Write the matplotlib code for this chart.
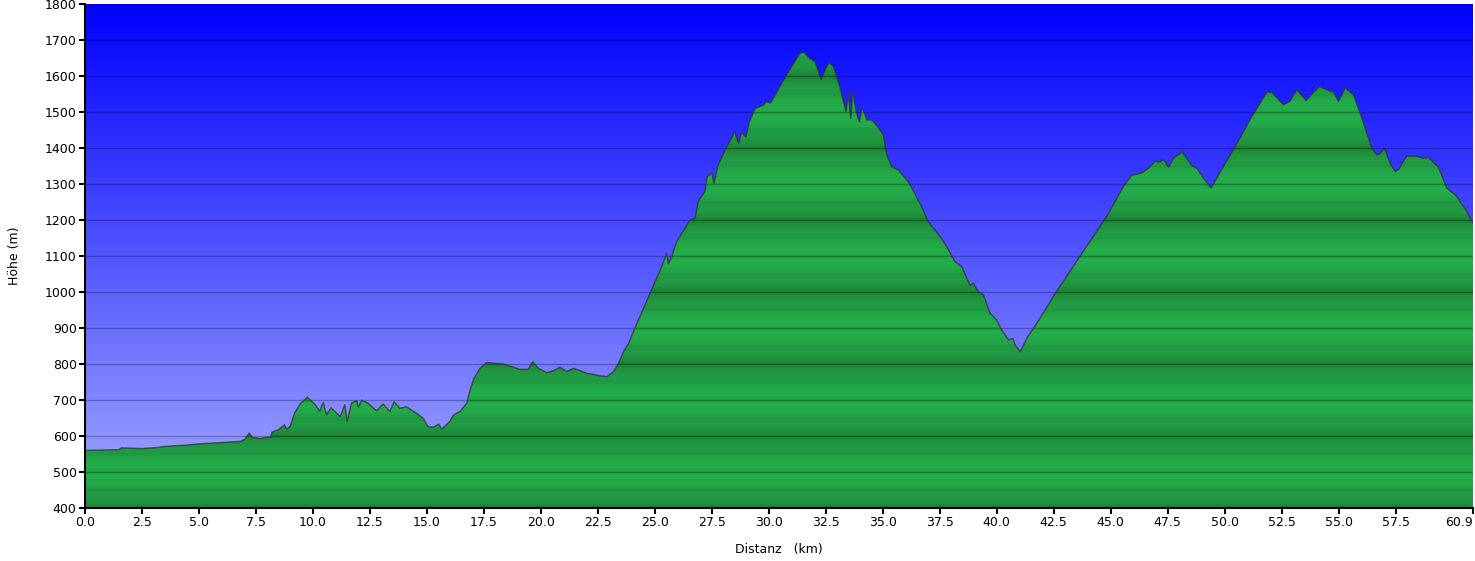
import numpy as np
import matplotlib
matplotlib.use("Agg")
import matplotlib.pyplot as plt

# elevation profile
km = [0, 1.5, 1.6, 2.5, 3.2, 3.5, 4.5, 5.0, 6.0, 6.8, 7.0, 7.2, 7.35, 7.7, 8.0, 8.15, 8.2,
      8.5, 8.75, 8.85, 9.0, 9.2, 9.45, 9.7, 9.75, 10.1, 10.3, 10.45, 10.6, 10.8, 11.2, 11.4,
      11.5, 11.7, 11.92, 12.0, 12.14, 12.4, 12.8, 13.08, 13.38, 13.56, 13.82, 14.1, 14.55,
      14.84, 15.05, 15.27, 15.53, 15.65, 16.0, 16.16, 16.45, 16.75, 16.9, 17.04, 17.33,
      17.62, 17.92, 18.36, 18.65, 19.09, 19.45, 19.64, 19.89, 20.26, 20.55, 20.84, 21.14,
      21.43, 21.65, 22.02, 22.31, 22.6, 22.9, 23.19, 23.41, 23.63, 23.85, 24.06, 24.79,
      25.3, 25.52, 25.6, 25.74, 25.96, 26.55, 26.77, 26.9, 27.2, 27.3, 27.5, 27.6, 27.75,
      28.08, 28.52, 28.67, 28.81, 29.0, 29.15, 29.4, 29.77, 29.88, 30.08, 30.57, 31.0,
      31.37, 31.54, 31.8, 32.03, 32.3, 32.54, 32.66, 32.84, 33.13, 33.39, 33.49, 33.6,
      33.69, 33.83, 33.98, 34.08, 34.18, 34.3, 34.52, 34.81, 35.03, 35.18, 35.4, 35.69,
      36.13, 36.64, 37.0, 37.52, 37.81, 38.17, 38.47, 38.83, 38.98, 39.19, 39.42, 39.71,
      40.0, 40.22, 40.52, 40.71, 40.81, 41.03, 41.32, 41.9, 42.49, 43.8, 44.83, 45.56,
      45.92, 46.37, 46.66, 46.95, 47.14, 47.32, 47.54, 47.76, 48.13, 48.34, 48.56, 48.78,
      49.07, 49.41, 49.95, 50.65, 51.12, 51.85, 52.07, 52.58, 52.87, 53.17, 53.58, 53.9,
      54.16, 54.48, 54.78, 55.0, 55.29, 55.65, 55.95, 56.24, 56.46, 56.68, 56.82, 57.01,
      57.26, 57.48, 57.63, 57.99, 58.43, 58.72, 58.94, 59.38, 59.75, 60.18, 60.62, 60.9]
hoehe = [560, 562, 567, 565, 568, 571, 575, 578, 582, 585, 590, 608, 596, 593, 597, 597, 610,
         618, 631, 619, 627, 664, 690, 704, 708, 687, 669, 693, 659, 678, 654, 687,
         641, 692, 698, 680, 699, 692, 670, 689, 668, 695, 677, 681, 663,
         649, 626, 624, 633, 619, 640, 658, 668, 691, 728, 756, 788,
         804, 802, 800, 794, 785, 785, 806, 788, 776, 781, 791, 779,
         788, 783, 774, 771, 767, 765, 779, 802, 834, 857, 890, 996,
         1070, 1107, 1078, 1098, 1140, 1200, 1205, 1251, 1279, 1320, 1331, 1302, 1348,
         1394, 1445, 1413, 1443, 1431, 1473, 1510, 1519, 1529, 1525, 1580, 1626,
         1663, 1666, 1649, 1640, 1591, 1626, 1637, 1626, 1568, 1501, 1552, 1482,
         1561, 1501, 1473, 1510, 1501, 1478, 1478, 1457, 1436, 1381, 1348, 1339,
         1306, 1246, 1195, 1154, 1126, 1084, 1070, 1019, 1024, 1001, 992, 941,
         922, 894, 867, 871, 853, 834, 871, 927, 988, 1113, 1210, 1293,
         1324, 1331, 1344, 1363, 1361, 1368, 1347, 1372, 1389, 1372, 1351, 1344,
         1317, 1289, 1349, 1425, 1479, 1555, 1555, 1520, 1530, 1562, 1532, 1555,
         1571, 1562, 1555, 1530, 1567, 1548, 1497, 1442, 1400, 1381, 1384, 1400,
         1358, 1335, 1340, 1377, 1377, 1372, 1374, 1347, 1289, 1266, 1224, 1192]

x_ticks = [0, 2.5, 5, 7.5, 10, 12.5, 15, 17.5, 20, 22.5, 25, 27.5, 30, 32.5, 35, 37.5,
           40, 42.5, 45, 47.5, 50, 52.5, 55, 57.5, 60.9]
x_max = 60.9
y_min, y_max = 400, 1800

fig = plt.figure(figsize=(14.75, 5.61), dpi=100)
ax = fig.add_axes([85 / 1475, 53 / 561, 1388 / 1475, 504 / 561])
ax.set_xlim(0, x_max)
ax.set_ylim(y_min, y_max)

# blue sky gradient
h = np.linspace(y_max, y_min, 700)
t = (y_max - h) / (y_max - y_min)
sky = np.zeros((len(h), 1, 3))
sky[:, 0, 0] = t * 165 / 255
sky[:, 0, 1] = t * 172 / 255
sky[:, 0, 2] = 1.0
ax.imshow(sky, extent=[0, x_max, y_min, y_max], aspect="auto", zorder=0,
          interpolation="bilinear")

# banded green fill, clipped to the profile
p200 = np.abs(((h - y_min) % 200) - 100) / 100.0   # 1 at even hundreds
p50 = np.abs(((h - y_min) % 50) - 25) / 25.0
shade = np.clip(0.75 * p200 ** 1.5 + 0.25 * p50 ** 3, 0, 1)
light = np.array([35, 176, 76]) / 255
dark = np.array([29, 126, 54]) / 255
band = dark[None, :] * shade[:, None] + light[None, :] * (1 - shade[:, None])
img = ax.imshow(band[:, None, :], extent=[0, x_max, y_min, y_max], aspect="auto",
                zorder=1, interpolation="bilinear")
poly = ax.fill_between(km, hoehe, y_min, color="none", lw=0)
img.set_clip_path(poly.get_paths()[0], transform=ax.transData)

# horizontal grid
for yv in range(500, 1800, 100):
    ax.axhline(yv, color="black", alpha=0.28, lw=1, zorder=2)

ax.plot(km, hoehe, color="#303030", lw=1.1, alpha=0.7, zorder=3)

ax.set_xticks(x_ticks)
ax.set_xticklabels([f"{v:.1f}" for v in x_ticks])
ax.get_xticklabels()[-1].set_horizontalalignment("right")
ax.set_yticks(range(400, 1801, 100))
ax.tick_params(direction="out", length=4, width=1.5, labelsize=9, colors="black", pad=2)
for s in ["top", "right"]:
    ax.spines[s].set_visible(False)
for s in ["left", "bottom"]:
    ax.spines[s].set_linewidth(1.5)
ax.set_xlabel("Distanz   (km)", fontsize=9, labelpad=10)
ax.set_ylabel("Höhe (m)", fontsize=9, labelpad=17)

fig.savefig("out.png", dpi=100)
